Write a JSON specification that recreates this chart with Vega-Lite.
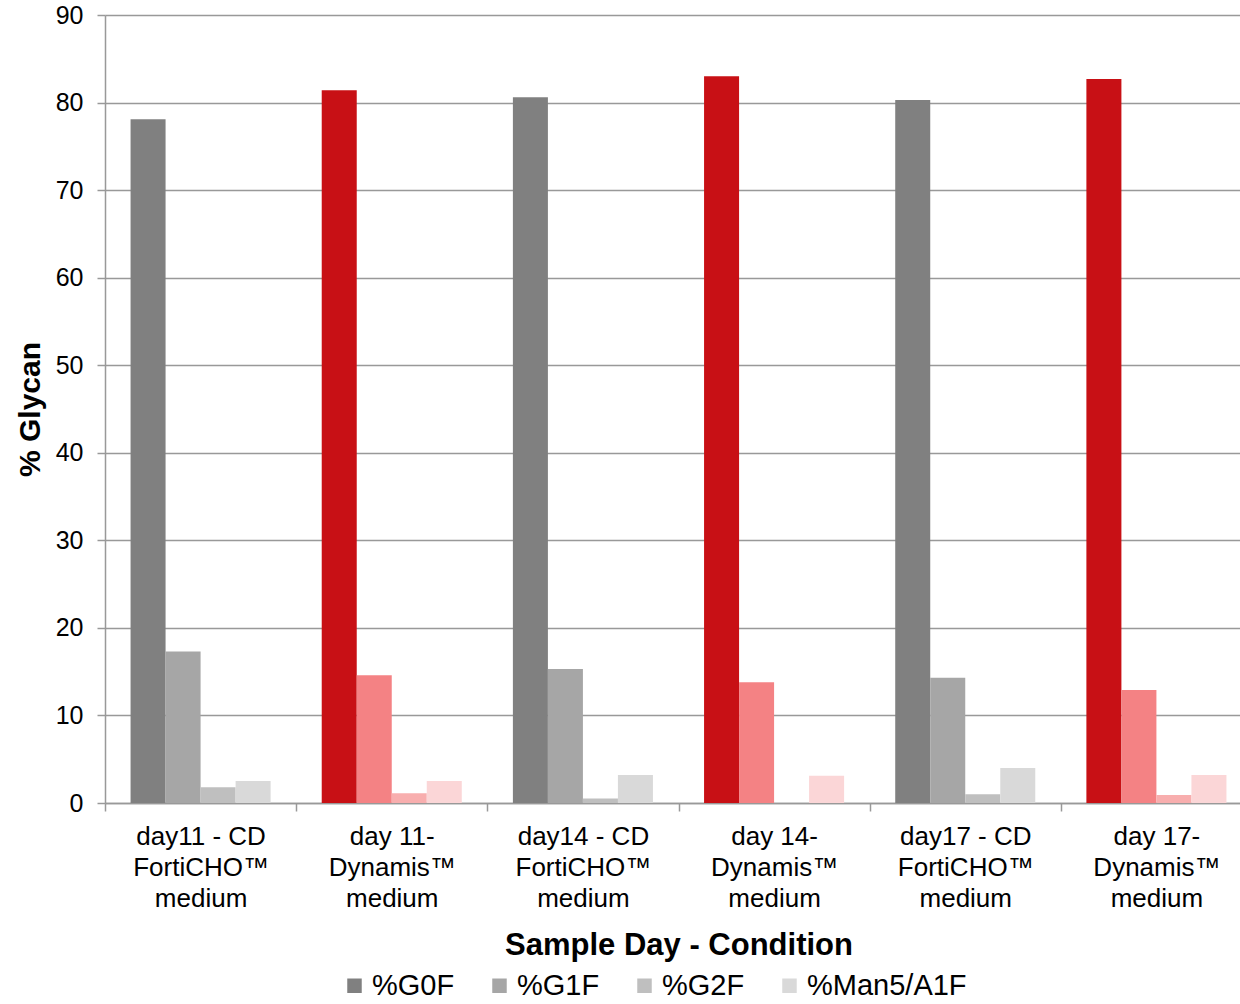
{
  "$schema": "https://vega.github.io/schema/vega-lite/v6.json",
  "width": 1147,
  "height": 788,
  "autosize": "none",
  "padding": {"left": 105, "top": 15, "right": 0, "bottom": 201},
  "background": "white",
  "config": {
    "font": "Liberation Sans",
    "view": {"stroke": null},
    "axis": {
      "domainColor": "#999999",
      "domainWidth": 1.5,
      "tickColor": "#999999",
      "tickWidth": 1.5,
      "tickSize": 8,
      "gridColor": "#999999",
      "gridWidth": 1.5,
      "labelColor": "#000000",
      "titleColor": "#000000",
      "labelFont": "Liberation Sans",
      "titleFont": "Liberation Sans"
    }
  },
  "data": {
    "values": [
      {"category": "day11 - CD|FortiCHO™|medium", "series": "%G0F", "group": "gray", "value": 78.1},
      {"category": "day11 - CD|FortiCHO™|medium", "series": "%G1F", "group": "gray", "value": 17.3},
      {"category": "day11 - CD|FortiCHO™|medium", "series": "%G2F", "group": "gray", "value": 1.8},
      {"category": "day11 - CD|FortiCHO™|medium", "series": "%Man5/A1F", "group": "gray", "value": 2.5},
      {"category": "day 11-|Dynamis™|medium", "series": "%G0F", "group": "red", "value": 81.4},
      {"category": "day 11-|Dynamis™|medium", "series": "%G1F", "group": "red", "value": 14.6},
      {"category": "day 11-|Dynamis™|medium", "series": "%G2F", "group": "red", "value": 1.1},
      {"category": "day 11-|Dynamis™|medium", "series": "%Man5/A1F", "group": "red", "value": 2.5},
      {"category": "day14 - CD|FortiCHO™|medium", "series": "%G0F", "group": "gray", "value": 80.6},
      {"category": "day14 - CD|FortiCHO™|medium", "series": "%G1F", "group": "gray", "value": 15.3},
      {"category": "day14 - CD|FortiCHO™|medium", "series": "%G2F", "group": "gray", "value": 0.5},
      {"category": "day14 - CD|FortiCHO™|medium", "series": "%Man5/A1F", "group": "gray", "value": 3.2},
      {"category": "day 14-|Dynamis™|medium", "series": "%G0F", "group": "red", "value": 83.0},
      {"category": "day 14-|Dynamis™|medium", "series": "%G1F", "group": "red", "value": 13.8},
      {"category": "day 14-|Dynamis™|medium", "series": "%G2F", "group": "red", "value": 0},
      {"category": "day 14-|Dynamis™|medium", "series": "%Man5/A1F", "group": "red", "value": 3.1},
      {"category": "day17 - CD|FortiCHO™|medium", "series": "%G0F", "group": "gray", "value": 80.3},
      {"category": "day17 - CD|FortiCHO™|medium", "series": "%G1F", "group": "gray", "value": 14.3},
      {"category": "day17 - CD|FortiCHO™|medium", "series": "%G2F", "group": "gray", "value": 1.0},
      {"category": "day17 - CD|FortiCHO™|medium", "series": "%Man5/A1F", "group": "gray", "value": 4.0},
      {"category": "day 17-|Dynamis™|medium", "series": "%G0F", "group": "red", "value": 82.7},
      {"category": "day 17-|Dynamis™|medium", "series": "%G1F", "group": "red", "value": 12.9},
      {"category": "day 17-|Dynamis™|medium", "series": "%G2F", "group": "red", "value": 0.9},
      {"category": "day 17-|Dynamis™|medium", "series": "%Man5/A1F", "group": "red", "value": 3.2}
    ]
  },
  "encoding": {
    "x": {
      "field": "category",
      "type": "nominal",
      "sort": null,
      "scale": {
        "domain": ["day11 - CD|FortiCHO™|medium", "day 11-|Dynamis™|medium", "day14 - CD|FortiCHO™|medium", "day 14-|Dynamis™|medium", "day17 - CD|FortiCHO™|medium", "day 17-|Dynamis™|medium"],
        "paddingInner": 0,
        "paddingOuter": 0
      },
      "axis": {
        "title": "Sample Day - Condition",
        "labelAngle": 0,
        "labelExpr": "split(datum.label, '|')",
        "tickBand": "extent",
        "labelFontSize": 26,
        "labelLineHeight": 31,
        "labelPadding": 12,
        "labelBaseline": "top",
        "titleFontSize": 31,
        "titleFontWeight": "bold",
        "titlePadding": 19
      }
    },
    "xOffset": {
      "field": "series",
      "type": "nominal",
      "scale": {"domain": ["%G0F", "%G1F", "%G2F", "%Man5/A1F"], "paddingInner": 0, "paddingOuter": 0.73}
    },
    "y": {
      "field": "value",
      "type": "quantitative",
      "scale": {"domain": [0, 90], "nice": false},
      "axis": {
        "title": "% Glycan",
        "values": [0, 10, 20, 30, 40, 50, 60, 70, 80, 90],
        "labelFontSize": 25,
        "labelPadding": 14,
        "titleFontSize": 30,
        "titleFontWeight": "bold",
        "titlePadding": 10
      }
    }
  },
  "layer": [
    {
      "transform": [{"filter": "datum.group === 'gray'"}],
      "mark": {"type": "bar"},
      "encoding": {
        "color": {
          "field": "series",
          "type": "nominal",
          "scale": {"domain": ["%G0F", "%G1F", "%G2F", "%Man5/A1F"], "range": ["#808080", "#A6A6A6", "#BFBFBF", "#D9D9D9"]},
          "legend": {
            "title": null,
            "orient": "none",
            "direction": "horizontal",
            "legendX": 235,
            "legendY": 956,
            "symbolType": "square",
            "symbolSize": 210,
            "symbolStrokeWidth": 0,
            "labelFontSize": 29,
            "labelColor": "#000000",
            "labelOffset": 3,
            "columnPadding": 30,
            "labelLimit": 300
          }
        }
      }
    },
    {
      "transform": [{"filter": "datum.group === 'red'"}],
      "mark": {"type": "bar"},
      "encoding": {
        "color": {
          "field": "series",
          "type": "nominal",
          "scale": {"domain": ["%G0F", "%G1F", "%G2F", "%Man5/A1F"], "range": ["#C81015", "#F48284", "#F8AEAE", "#FBD6D7"]},
          "legend": null
        }
      }
    }
  ],
  "resolve": {"scale": {"color": "independent"}}
}
